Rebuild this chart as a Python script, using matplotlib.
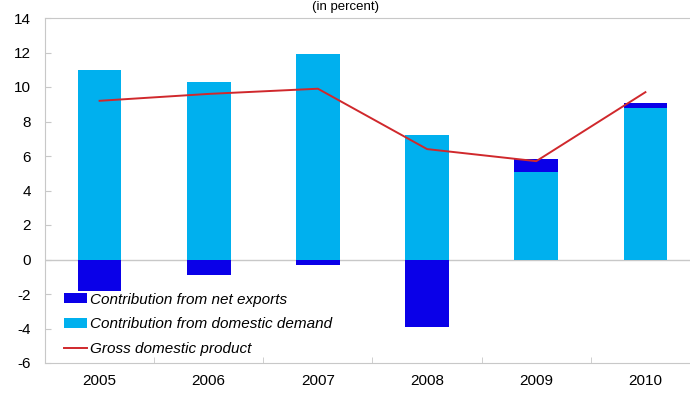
import numpy as np
import matplotlib.pyplot as plt

plt.rcParams['font.family'] = ['Liberation Sans', 'DejaVu Sans']
plt.rcParams['axes.unicode_minus'] = False

# data
years = ['2005', '2006', '2007', '2008', '2009', '2010']
domestic = [11.0, 10.3, 11.9, 7.2, 5.1, 8.8]
net_exports = [-1.8, -0.9, -0.3, -3.9, 0.7, 0.3]
gdp = [9.2, 9.6, 9.9, 6.4, 5.7, 9.7]

x = np.arange(len(years))
net = np.array(net_exports)
dom = np.array(domestic)
net_bottom = np.where(net > 0, dom, 0)

fig = plt.figure(figsize=(6.9, 3.94), dpi=100)
ax = fig.add_axes([45 / 690, 31 / 394, 655 / 690, 345 / 394])

dark = '#0a00e8'
light = '#00b0ee'
b1 = ax.bar(x, net, 0.4, bottom=net_bottom, color=dark, label='Contribution from net exports', zorder=2)
b2 = ax.bar(x, dom, 0.4, color=light, label='Contribution from domestic demand', zorder=2)
l1, = ax.plot(x, gdp, color='#d0282c', lw=1.4, label='Gross domestic product', zorder=3)

ax.axhline(0, color='#c8c8c8', lw=1, zorder=1)
ax.set_xlim(-0.5, 5.5)
ax.set_ylim(-6, 14)
ax.set_yticks(range(-6, 15, 2))
ax.set_xticks(x)
ax.set_xticklabels(years)
ax.set_xticks(np.arange(-0.5, 6, 1), minor=True)
ax.tick_params(axis='x', which='major', length=0, pad=8, labelsize=11)
ax.tick_params(axis='x', which='minor', length=4, color='#c8c8c8', direction='in')
ax.tick_params(axis='y', length=4, color='#c8c8c8', direction='in', labelsize=11, pad=10)
for s in ax.spines.values():
    s.set_color('#c8c8c8')
ax.spines['right'].set_visible(False)

leg = ax.legend([b1, b2, l1], [b1.get_label(), b2.get_label(), l1.get_label()],
                loc='lower left', bbox_to_anchor=(0.01, -0.015), frameon=False,
                prop={'style': 'italic', 'size': 11}, handlelength=1.5, handleheight=0.6,
                handletextpad=0.2, labelspacing=0.7, borderpad=0.3)

fig.text(0.5, 0.998, '(in percent)', ha='center', va='top', fontsize=9.5)

fig.savefig('out.png', dpi=100)
